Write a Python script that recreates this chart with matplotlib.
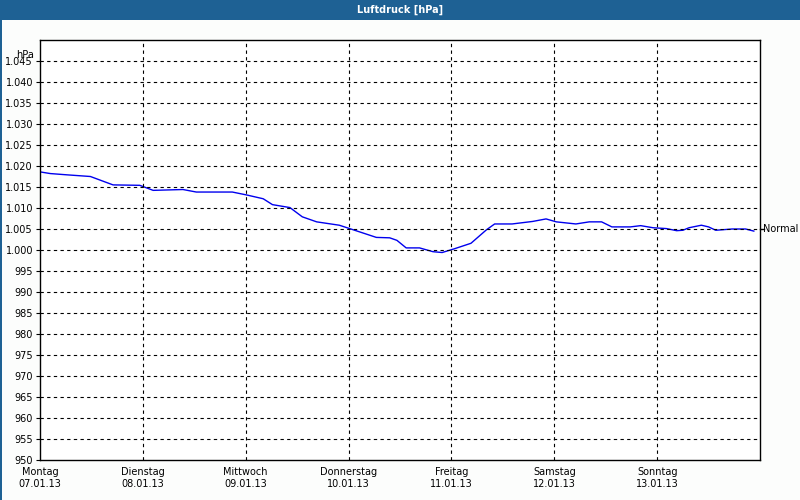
import matplotlib
matplotlib.use("Agg")
import matplotlib.pyplot as plt
from matplotlib.patches import Rectangle

day_names = ["Montag", "Dienstag", "Mittwoch", "Donnerstag", "Freitag", "Samstag", "Sonntag"]
dates = ["07.01.13", "08.01.13", "09.01.13", "10.01.13", "11.01.13", "12.01.13", "13.01.13"]
# time in days since Monday 00:00
t = [0.00, 0.10, 0.26, 0.49, 0.71, 0.97, 1.10, 1.39, 1.52, 1.87, 2.01, 2.17, 2.26, 2.43,
     2.55, 2.69, 2.91, 3.01, 3.27, 3.40, 3.47, 3.56, 3.69, 3.82, 3.91, 4.03, 4.19, 4.34,
     4.42, 4.59, 4.79, 4.92, 5.02, 5.21, 5.34, 5.46, 5.56, 5.74, 5.84, 5.96, 6.09, 6.19,
     6.25, 6.31, 6.43, 6.50, 6.57, 6.73, 6.86, 6.94]
p = [1018.6, 1018.2, 1017.9, 1017.5, 1015.5, 1015.4, 1014.2, 1014.4, 1013.8, 1013.8,
     1013.1, 1012.2, 1010.8, 1010.1, 1007.9, 1006.7, 1005.9, 1005.1, 1003.0, 1002.9,
     1002.3, 1000.5, 1000.5, 999.6, 999.4, 1000.3, 1001.6, 1004.8, 1006.2, 1006.2,
     1006.8, 1007.4, 1006.7, 1006.2, 1006.7, 1006.7, 1005.5, 1005.5, 1005.8, 1005.3,
     1005.1, 1004.6, 1004.7, 1005.3, 1005.9, 1005.5, 1004.7, 1005.0, 1005.0, 1004.5]
yticks = list(range(950, 1050, 5))

def fmt(v):
    return f"{v // 1000}.{v % 1000:03d}" if v >= 1000 else str(v)

FS = 7
fig = plt.figure(figsize=(8, 5), dpi=100, facecolor="#fcfdfc")
fig.patches.append(Rectangle((0, 0.96), 1, 0.04, transform=fig.transFigure,
                             facecolor="#1e6194", edgecolor="none"))
fig.patches.append(Rectangle((0, 0), 0.0025, 1, transform=fig.transFigure,
                             facecolor="#1e6194", edgecolor="none"))
fig.text(0.5, 0.98, "Luftdruck [hPa]", color="white", ha="center", va="center",
         fontsize=FS, fontweight="bold")

ax = fig.add_axes([0.05, 0.08, 0.90, 0.84])
ax.set_facecolor("white")
ax.plot(t, p, color="#0000ee", lw=1)
ax.set_xlim(0, 7)
ax.set_ylim(950, 1050)
ax.set_yticks(yticks)
ax.set_yticklabels([fmt(v) for v in yticks])
ax.set_xticks(range(7))
ax.set_xticklabels([f"{d}\n{s}" for d, s in zip(day_names, dates)])
ax.tick_params(labelsize=FS, length=3, color="black", pad=2)
ax.tick_params(axis="x", length=0, pad=5)
for v in yticks[1:]:
    ax.axhline(v, color="black", ls=(0, (3, 3)), lw=0.8)
for d in range(1, 7):
    ax.axvline(d, color="black", ls=(0, (3, 3)), lw=0.8)
for s in ax.spines.values():
    s.set_color("black")
    s.set_linewidth(1)
ax.annotate("hPa", xy=(0, 1046.5), xycoords=("axes fraction", "data"),
            xytext=(-4, 0), textcoords="offset points", ha="right", va="center", fontsize=FS)
ax.annotate("Normal", xy=(1.0, 1005), xycoords=("axes fraction", "data"),
            xytext=(2.5, 0), textcoords="offset points", ha="left", va="center", fontsize=FS)
ax.plot([1.0, 1.005], [1005, 1005], color="black", lw=1,
        transform=ax.get_yaxis_transform(), clip_on=False)
fig.savefig("out.png", dpi=100, facecolor=fig.get_facecolor())
